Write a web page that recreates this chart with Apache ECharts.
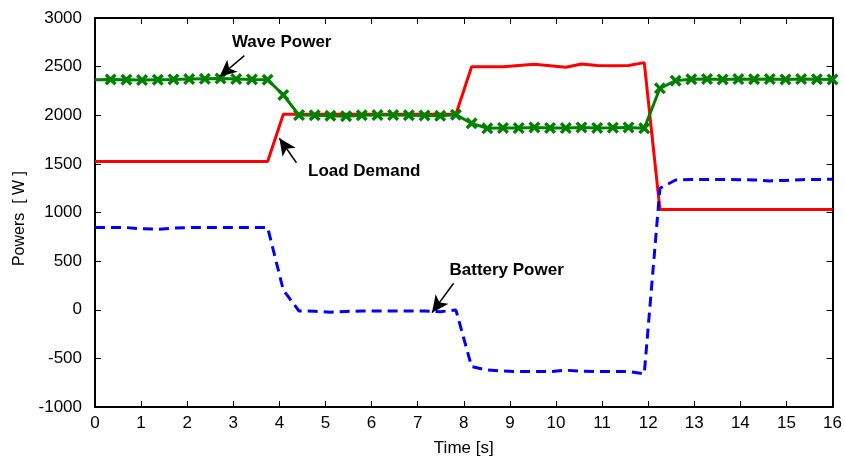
<!DOCTYPE html>
<html>
<head>
<meta charset="utf-8">
<script src="https://cdn.jsdelivr.net/npm/echarts@6/dist/echarts.min.js"></script>
<style>
  html, body { margin: 0; padding: 0; background: #fff; }
  #chart { width: 845px; height: 463px; }
</style>
</head>
<body>
<div id="chart"></div>
<script>
// Sample instants [s]
const time = [
  0.000, 0.340, 0.681, 1.021, 1.362, 1.702, 2.043, 2.383, 2.723, 3.064,
  3.404, 3.745, 4.085, 4.426, 4.766, 5.106, 5.447, 5.787, 6.128, 6.468,
  6.809, 7.149, 7.489, 7.830, 8.170, 8.511, 8.851, 9.191, 9.532, 9.872,
  10.213, 10.553, 10.894, 11.234, 11.574, 11.915, 12.255, 12.596, 12.936, 13.277,
  13.617, 13.957, 14.298, 14.638, 14.979, 15.319, 15.660, 16.000
];

// Powers [W]
const wavePower = [
  2365, 2368, 2365, 2362, 2365, 2368, 2372, 2375, 2378, 2372,
  2368, 2365, 2208, 2002, 2000, 1995, 1990, 2000, 2002, 2002,
  2000, 1998, 1995, 2005, 1917, 1866, 1870, 1868, 1875, 1870,
  1868, 1875, 1870, 1872, 1875, 1866, 2277, 2356, 2370, 2372,
  2368, 2372, 2370, 2372, 2368, 2372, 2370, 2368
];
const loadDemand = [
  1525, 1525, 1525, 1525, 1525, 1525, 1525, 1525, 1525, 1525,
  1525, 1525, 2010, 2010, 2010, 2010, 2010, 2010, 2010, 2010,
  2010, 2010, 2010, 2010, 2499, 2500, 2499, 2512, 2524, 2510,
  2493, 2527, 2512, 2510, 2512, 2541, 1030, 1030, 1030, 1030,
  1030, 1030, 1030, 1030, 1030, 1030, 1030, 1030
];
const batteryPower = [
  845, 845, 845, 832, 828, 840, 845, 845, 845, 845,
  845, 845, 203, -13, -15, -25, -18, -12, -12, -12,
  -12, -12, -20, -3, -585, -620, -630, -636, -636, -636,
  -622, -632, -636, -636, -636, -660, 1249, 1334, 1340, 1340,
  1340, 1338, 1335, 1325, 1330, 1338, 1340, 1341
];

// Axis ranges and tick steps
const xTicks = { min: 0, max: 16, step: 1 };
const yTicks = { min: -1000, max: 3000, step: 500 };

// Callout texts [label, textAnchor(t, P), arrowTail(t, P), arrowTip(t, P)]
const callouts = [
  ['Wave Power',    [4.05, 2753], [3.24, 2613], [2.70, 2396]],
  ['Load Demand',   [5.84, 1420], [4.37, 1512], [4.00, 1763]],
  ['Battery Power', [8.93, 402],  [7.78, 272],  [7.31, -30]]
];

const pairs = (ys) => time.map((t, i) => [t, ys[i]]);
const FONT = 'Liberation Sans, Arial, Helvetica, sans-serif';
const crossPath = 'path://M0,2 L2,0 L5,3 L8,0 L10,2 L7,5 L10,8 L8,10 L5,7 L2,10 L0,8 L3,5 Z';

const axisLineStyle = { color: '#000', width: 2 };
const baseX = {
  type: 'value', min: xTicks.min, max: xTicks.max, interval: xTicks.step,
  axisLine: { show: true, onZero: false, lineStyle: axisLineStyle },
  axisTick: { show: true, inside: true, length: 6, lineStyle: { color: '#000', width: 1 } },
  splitLine: { show: false }
};
const baseY = {
  type: 'value', min: yTicks.min, max: yTicks.max, interval: yTicks.step,
  axisLine: { show: true, onZero: false, lineStyle: axisLineStyle },
  axisTick: { show: true, inside: true, length: 6, lineStyle: { color: '#000', width: 1 } },
  splitLine: { show: false }
};

const chart = echarts.init(document.getElementById('chart'), null, { renderer: 'canvas' });

const waveData = pairs(wavePower).map((p, i) => i === 0 ? { value: p, symbol: 'none' } : p);

chart.setOption({
  animation: false,
  backgroundColor: '#fff',
  grid: { left: 95, right: 10, top: 18, bottom: 56, containLabel: false },
  xAxis: [
    Object.assign({}, baseX, {
      position: 'bottom',
      name: 'Time [s]', nameLocation: 'middle', nameGap: 33,
      nameTextStyle: { color: '#000', fontSize: 17, fontFamily: FONT },
      axisLabel: { color: '#000', fontSize: 17, fontFamily: FONT, margin: 8 }
    }),
    Object.assign({}, baseX, { position: 'top', axisLabel: { show: false } })
  ],
  yAxis: [
    Object.assign({}, baseY, {
      position: 'left',
      name: 'Powers  [ W ]', nameLocation: 'middle', nameGap: 62,
      nameTextStyle: { color: '#000', fontSize: 16, fontFamily: FONT, padding: [0, 12, 0, 0] },
      axisLabel: { color: '#000', fontSize: 17, fontFamily: FONT, margin: 13, formatter: v => String(v) }
    }),
    Object.assign({}, baseY, { position: 'right', axisLabel: { show: false } })
  ],
  series: [
    {
      name: 'Load Demand', type: 'line', data: pairs(loadDemand),
      showSymbol: false, symbol: 'none',
      lineStyle: { color: '#ff0000', width: 3 }, z: 2
    },
    {
      name: 'Battery Power', type: 'line', data: pairs(batteryPower),
      showSymbol: false, symbol: 'none',
      lineStyle: { color: '#0000ff', width: 3, type: [10, 6] }, z: 2
    },
    {
      name: 'Wave Power', type: 'line', data: waveData,
      symbol: crossPath, symbolSize: 12, showSymbol: true,
      itemStyle: { color: '#008000' },
      lineStyle: { color: '#008000', width: 3 }, z: 3,
      markLine: {
        silent: true, animation: false,
        lineStyle: { color: '#000', width: 1.5, type: 'solid' },
        label: { show: false },
        data: callouts.map(c => [
          { coord: c[2], symbol: 'none' },
          { coord: c[3], symbol: 'arrow', symbolSize: [12, 17] }
        ])
      },
      markPoint: {
        silent: true, animation: false,
        symbol: 'circle', symbolSize: 1, itemStyle: { color: 'rgba(0,0,0,0)' },
        label: {
          show: true, position: 'inside', color: '#000',
          fontSize: 17, fontWeight: 'bold', fontFamily: FONT,
          formatter: p => p.name
        },
        data: callouts.map(c => ({ name: c[0], coord: c[1] }))
      }
    }
  ]
});
</script>
</body>
</html>
